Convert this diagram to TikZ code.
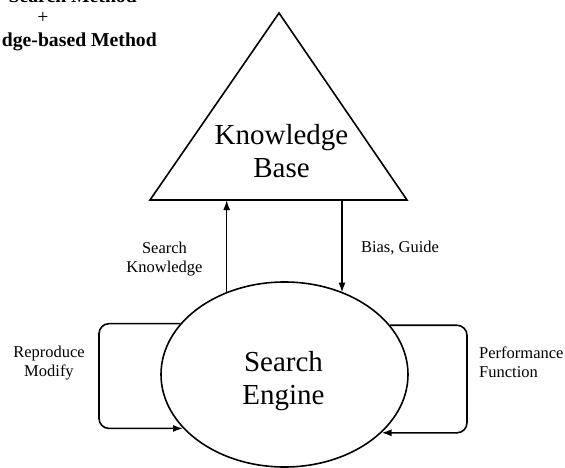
\documentclass[tikz,border=0pt]{standalone}
\usepackage{fontspec}
\setmainfont{Liberation Serif}
\usetikzlibrary{shapes.geometric,arrows.meta}
\begin{document}
\begin{tikzpicture}[x=1pt,y=-1pt,
  line/.style={line width=1.6pt},
  arr/.style={line width=1.6pt,-{Latex[length=10pt,width=7pt]}},
  big/.style={font=\fontsize{29}{33}\selectfont, align=center, inner sep=0pt},
  lbl/.style={font=\fontsize{16.5}{19}\selectfont, align=center, inner sep=0pt},
  head/.style={font=\fontsize{19.7}{23}\selectfont\bfseries, inner sep=0pt}]
\useasboundingbox (0,0) rectangle (565,468);
\begin{scope}
\clip (0,0) rectangle (565,468);
\node[head, anchor=base east] (h1) at (137,2.5) {Search Method};
\end{scope}
\node[font=\fontsize{19.7}{23}\selectfont, inner sep=0pt] (plus) at (43,17.5) {+};
\node[head, anchor=base east] (h2) at (157,47) {dge-based Method};

\coordinate (apex) at (279,13);
\coordinate (bl) at (150,200);
\coordinate (br) at (407,200);
\draw[line, line join=miter] (apex) -- (br) -- (bl) -- cycle;
\node[big] (kb) at (281.5,151) {Knowledge\\Base};

\node[draw, ellipse, line width=1.6pt, minimum width=247pt, minimum height=185pt, inner sep=0pt] (se) at (284.5,374.5) {};
\node[big] (set) at (283.5,381) {Search\\Engine};

\coordinate (kl) at (226,200);
\coordinate (kr) at (342,200);
\draw[arr] (se.125.7) -- (se.125.7 |- kl);
\draw[arr] (kr) -- (kr |- se.54.8);

\draw[arr, rounded corners=10pt] (se.154) -| (99,376) |- (se.208);
\draw[arr, rounded corners=10pt] (se.25.4) -| (467,376) |- (se.329.9);

\node[lbl] (sk) at (164.5,258.7) {Search\\Knowledge};
\node[lbl, anchor=base] (bg) at (400,252) {Bias, Guide};
\node[lbl] (rm) at (49,362.7) {Reproduce\\Modify};
\node[lbl, anchor=west, align=left] (pf) at (479,362.4) {Performance\\Function};
\end{tikzpicture}
\end{document}
